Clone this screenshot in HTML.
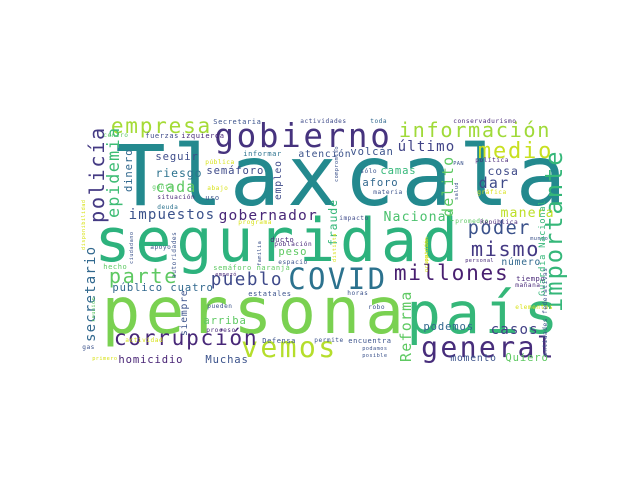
<!DOCTYPE html>
<html><head><meta charset="utf-8">
<style>
html,body{margin:0;padding:0;background:#fff;}
#cloud{position:relative;width:640px;height:480px;overflow:hidden;background:#fff;}
#cloud span{position:absolute;white-space:nowrap;line-height:1;font-family:"DejaVu Sans Mono","Liberation Mono",monospace;}
</style></head>
<body>
<div id="cloud"></div>
<script>
// [word, x, baseline (or bottom y if vertical), font size, color, vertical]
const words = [
["Tlaxcala",112,206,95,"#23898e",0],
["seguridad",92,263,68,"#2db27d",0],
["persona",99,334,73,"#7ad151",0],
["país",404,334,65,"#35b779",0],
["gobierno",213,148,37,"#46337e",0],
["COVID",287,290,33,"#2c728e",0],
["general",420,358,32,"#472d7b",0],
["vemos",240,358,32,"#b5de2b",0],
["corrupción",113,345,24,"#482878",0],
["información",398,137,23,"#a0da39",0],
["medio",477,160,25,"#c8e020",0],
["importante",541,312,27,"#35b779",1],
["empresa",110,133,24,"#a5db36",0],
["policía",86,223,23,"#443a83",1],
["epidemia",104,218,19,"#3dbc74",1],
["mismo",470,256,23,"#443983",0],
["millones",393,280,24,"#481f70",0],
["poder",467,236,21,"#3b528b",0],
["pueblo",210,287,20,"#3e4989",0],
["parte",108,283,23,"#5ec962",0],
["impuestos",128,220,16,"#3b528b",0],
["gobernador",218,221,16.5,"#482677",0],
["Nacional",383,222,15,"#4ac16d",0],
["manera",500,218,15,"#bddf26",0],
["dar",478,189,17,"#3e4a89",0],
["delito",440,217,17,"#5ec962",1],
["último",397,152,16,"#414487",0],
["Reforma",398,362,17,"#5ec962",1],
["casos",490,335,16,"#424086",0],
["secretario",83,342,16,"#31688e",1],
["homicidio",118,364,12,"#482475",0],
["Muchas",205,364,12,"#3b528b",0],
["Secretaria",213,124,8,"#3b528b",0],
["actividades",300,124,7,"#3e4a89",0],
["centro",103,138,7,"#5dc863",0],
["fuerzas",145,138,8,"#3e4a89",0],
["izquierda",181,138,8,"#482878",0],
["seguir",155,161,12,"#3e4c8a",0],
["riesgo",155,178,13,"#2c728e",0],
["cada",155,193,17,"#5ec962",0],
["semáforo",206,175,12,"#3e4a89",0],
["dinero",123,192,12,"#31688e",1],
["gente",152,190,7,"#5dc863",0],
["situación",157,200,7,"#482878",0],
["abajo",207,191,7,"#d8e219",0],
["uso",205,200,8,"#3b528b",0],
["pública",205,165,7,"#d8e219",0],
["informar",243,156,8,"#2c728e",0],
["atención",298,158,11,"#3b528b",0],
["empleo",273,200,11,"#3e4a89",1],
["deuda",157,210,7,"#2c728e",0],
["programa",238,225,7,"#d8e219",0],
["disponibilidad",82,250,6,"#d8e219",1],
["ducto",270,242,8,"#482878",0],
["toda",370,124,7,"#31688e",0],
["conservadurismo",453,124,7,"#482878",0],
["volcán",350,156,12,"#3b528b",0],
["camas",380,175,12,"#35b779",0],
["aforo",362,187,12,"#31688e",0],
["sólo",360,174,7,"#3b528b",0],
["materia",373,195,7,"#3b528b",0],
["cosa",487,176,13,"#3e4a89",0],
["PAN",453,166,6,"#3b528b",0],
["política",475,163,7,"#482878",0],
["compromiso",335,182,6,"#3b528b",1],
["salud",455,200,6,"#3b528b",1],
["gráfica",477,195,7,"#d8e219",0],
["fraude",327,246,13,"#35b779",1],
["impacto",339,221,7,"#3e4a89",0],
["promedio",455,224,7,"#5dc863",0],
["República",480,225,7,"#482878",0],
["mundo",530,241,6,"#3b528b",0],
["Guardia Nacional",538,296,10,"#35b779",1],
["distinta",333,262,6,"#d8e219",1],
["opinión",425,262,6,"#d8e219",1],
["apoyo",150,250,7,"#3b528b",0],
["autoridades",172,278,7,"#3b528b",1],
["población",274,247,7,"#482878",0],
["familia",258,266,6,"#3b528b",1],
["peso",278,256,12,"#5ec962",0],
["espacio",278,265,7,"#3b528b",0],
["hecho",103,269,8,"#5ec962",0],
["semáforo naranja",213,270,8,"#5ec962",0],
["empezó",215,277,6,"#482878",0],
["público",112,292,12,"#31688e",0],
["cuatro",170,292,12,"#31688e",0],
["estatales",248,296,8,"#3b528b",0],
["siempre",179,336,11,"#3b528b",1],
["arriba",203,325,12,"#5ec962",0],
["pueden",207,309,7,"#3b528b",0],
["proceso",206,333,7,"#482878",0],
["reunión",92,322,6,"#5dc863",1],
["actividad",125,343,7,"#d8e219",0],
["Defensa",262,343,8,"#3b528b",0],
["permite",314,343,7,"#3b528b",0],
["gas",82,350,7,"#3b528b",0],
["primero",92,361,6,"#d8e219",0],
["ciudadano",130,264,6,"#3b528b",1],
["número",501,266,11,"#31688e",0],
["personal",465,263,6,"#482878",0],
["ocupación",425,272,6,"#d8e219",1],
["tiempo",516,281,8,"#482878",0],
["mañana",515,288,7,"#482878",0],
["horas",347,296,7,"#3b528b",0],
["robo",368,310,7,"#3b528b",0],
["elementos",515,310,7,"#d8e219",0],
["podemos",423,331,12,"#31688e",0],
["encuentra",348,343,8,"#3b528b",0],
["podamos",362,351,6,"#3b528b",0],
["posible",362,358,6,"#3b528b",0],
["momento",450,362,11,"#3b528b",0],
["Quiero",505,362,12,"#5ec962",0],
["entidades federativas",543,356,7,"#3b528b",1]
];
const K = 0.88;
const cloud = document.getElementById('cloud');
for (const w of words) {
  const [t, x, y, s, c, v] = w;
  const fs = s * K;
  const el = document.createElement('span');
  
  
  el.textContent = t;
  el.style.fontSize = fs + 'px';
  el.style.letterSpacing = (0.602 * (s - fs)) + 'px';
  el.style.color = c;
  if (v) {
    el.style.left = (x + (s - fs) * 0.5) + 'px';
    el.style.top = y + 'px';
    el.style.transformOrigin = '0 0';
    el.style.transform = 'rotate(-90deg)';
  } else {
    el.style.left = (x + 0.301 * (s - fs)) + 'px';
    el.style.top = (y - fs * 0.846) + 'px';
  }
  cloud.appendChild(el);
}
</script>
</body></html>
